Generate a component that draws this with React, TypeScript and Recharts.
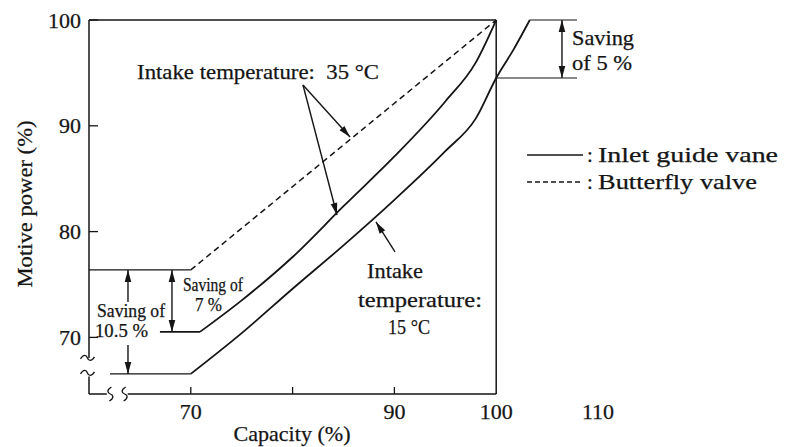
import React from 'react';
import { LineChart, Line, XAxis, YAxis, ReferenceLine, ReferenceDot } from 'recharts';

document.body.style.margin = '0';

const INK = '#151515';
const SERIF = '"Liberation Serif", "Times New Roman", serif';
const Y_MIN = 64.65;

// tick labels
const capacityTicks = [70, 80, 90, 100, 110];
const powerTicks = [70, 80, 90, 100];

// curves (capacity %, motive power %)
const butterflyFlat = [
    { capacity: 60, power: 76.38 },
    { capacity: 70, power: 76.38 },
];
const butterflyValve = [
    { capacity: 70, power: 76.38 },
    { capacity: 100, power: 100 },
];
const igv35Flat = [
    { capacity: 66.97, power: 70.52 },
    { capacity: 70.9, power: 70.52 },
];
const igv35 = [
    { capacity: 70.9, power: 70.52 },
    { capacity: 75, power: 73.5 },
    { capacity: 80, power: 77.6 },
    { capacity: 85, power: 82.4 },
    { capacity: 90, power: 87.1 },
    { capacity: 95, power: 92.3 },
    { capacity: 98, power: 96.0 },
    { capacity: 100, power: 100 },
];
const igv15Flat = [
    { capacity: 62.06, power: 66.55 },
    { capacity: 70, power: 66.55 },
];
const igv15 = [
    { capacity: 70, power: 66.55 },
    { capacity: 75, power: 70.4 },
    { capacity: 80, power: 74.6 },
    { capacity: 85, power: 78.7 },
    { capacity: 90, power: 83.0 },
    { capacity: 95, power: 87.6 },
    { capacity: 98, power: 90.7 },
    { capacity: 100, power: 94.52 },
    { capacity: 101.7, power: 97.2 },
    { capacity: 103.3, power: 100 },
];
const guide100 = [
    { capacity: 103.3, power: 100 },
    { capacity: 107.94, power: 100 },
];
const guide945 = [
    { capacity: 100, power: 94.52 },
    { capacity: 107.94, power: 94.52 },
];

const arrowShape = (heads: 'start' | 'end' | 'both') => (p: any) => {
    const { x1, y1, x2, y2 } = p;
    const head = (tx: number, ty: number, fx: number, fy: number) => {
        const a = Math.atan2(ty - fy, tx - fx);
        const L = 12, W = 3.3;
        const bx = tx - L * Math.cos(a), by = ty - L * Math.sin(a);
        const nx = -Math.sin(a) * W, ny = Math.cos(a) * W;
        return <polygon points={`${tx},${ty} ${bx + nx},${by + ny} ${bx - nx},${by - ny}`} fill={INK} />;
    };
    return (
        <g>
            <line x1={x1} y1={y1} x2={x2} y2={y2} stroke={INK} strokeWidth={1.4} />
            {heads !== 'start' && head(x2, y2, x1, y1)}
            {heads !== 'end' && head(x1, y1, x2, y2)}
        </g>
    );
};

const plainLine = (p: any) => <line x1={p.x1} y1={p.y1} x2={p.x2} y2={p.y2} stroke={INK} strokeWidth={1.5} />;

const T = ({ x, y, w, size = 21, anchor = 'start', children }: any) => (
    <text x={x} y={y} fontSize={size} fontFamily={SERIF} fill={INK} stroke={INK} strokeWidth={0.25}
        textAnchor={anchor} dominantBaseline="central" textLength={w} lengthAdjust="spacingAndGlyphs"
        style={{ whiteSpace: 'pre' }}>{children}</text>
);

const textAt = (content: string, w: number, size = 21) => (p: any) => <T x={p.cx} y={p.cy} w={w} size={size}>{content}</T>;

const tildeH = (p: any) => {
    const { cx, cy } = p;
    return <path d={`M ${cx - 7} ${cy + 1} C ${cx - 4} ${cy - 4} ${cx - 1} ${cy - 3} ${cx} ${cy} S ${cx + 4} ${cy + 4} ${cx + 7} ${cy - 1}`} fill="none" stroke={INK} strokeWidth={1.3} />;
};
const tildeV = (p: any) => {
    const { cx, cy } = p;
    return <path d={`M ${cx + 1} ${cy - 7} C ${cx - 4} ${cy - 4} ${cx - 3} ${cy - 1} ${cx} ${cy} S ${cx + 4} ${cy + 4} ${cx - 1} ${cy + 7}`} fill="none" stroke={INK} strokeWidth={1.3} />;
};

const legendEntry = (label: string, w: number, dashed: boolean) => (p: any) => (
    <g>
        <line x1={p.cx} y1={p.cy} x2={p.cx + 56} y2={p.cy} stroke={INK} strokeWidth={1.4} strokeDasharray={dashed ? '5 3' : undefined} />
        <T x={p.cx + 60} y={p.cy} size={21}>:</T>
        <T x={p.cx + 71} y={p.cy} w={w} size={21}>{label}</T>
    </g>
);

const YTick = ({ x, y, payload }: any) => (
    <g>
        <line x1={x} y1={y} x2={x + 9} y2={y} stroke={INK} strokeWidth={1.3} />
        <text x={x - 8} y={y} fontSize={22} fontFamily={SERIF} fill={INK} stroke={INK} strokeWidth={0.25}
            textAnchor="end" dominantBaseline="central">{payload.value}</text>
    </g>
);

const XTick = ({ x, y, payload }: any) => (
    <g>
        {payload.value <= 90 && <line x1={x} y1={y} x2={x} y2={y - 7} stroke={INK} strokeWidth={1.3} />}
        {payload.value !== 80 && (
            <text x={x} y={y + 17} fontSize={22} fontFamily={SERIF} fill={INK} stroke={INK} strokeWidth={0.25}
                textAnchor="middle" dominantBaseline="central">{payload.value}</text>
        )}
    </g>
);

const lineProps = { dataKey: 'power', dot: false, isAnimationActive: false, stroke: INK, legendType: 'none' as const };

export default function App() {
    return (
        <div style={{ width: 787, height: 447, background: '#fff' }}>
            <LineChart width={787} height={447} margin={{ top: 20, right: 189, bottom: 0, left: 0 }}>
                <XAxis
                    type="number"
                    dataKey="capacity"
                    domain={[60, 110]}
                    ticks={capacityTicks}
                    axisLine={false}
                    tickLine={false}
                    tickSize={0}
                    tickMargin={0}
                    height={53}
                    tick={<XTick />}
                    label={{
                        content: ({ viewBox }: any) => (
                            <T x={viewBox.x + 203} y={viewBox.y + 39} w={117} size={22} anchor="middle">Capacity (%)</T>
                        ),
                    }}
                />
                <YAxis
                    type="number"
                    domain={[Y_MIN, 100]}
                    ticks={powerTicks}
                    axisLine={false}
                    tickLine={false}
                    tickSize={0}
                    tickMargin={0}
                    width={89}
                    tick={<YTick />}
                    label={{
                        content: ({ viewBox }: any) => {
                            const cx = viewBox.x + 24;
                            const cy = viewBox.y + viewBox.height / 2 - 3;
                            return (
                                <text x={cx} y={cy} fontSize={22} fontFamily={SERIF} fill={INK} stroke={INK} strokeWidth={0.25}
                                    textAnchor="middle" dominantBaseline="central" transform={`rotate(-90 ${cx} ${cy})`}
                                    textLength={167} lengthAdjust="spacingAndGlyphs">Motive power (%)</text>
                            );
                        },
                    }}
                />

                {/* frame and broken axes */}
                <ReferenceLine segment={[{ x: 60, y: 100 }, { x: 100, y: 100 }]} shape={plainLine} ifOverflow="visible" />
                <ReferenceLine segment={[{ x: 100, y: 100 }, { x: 100, y: Y_MIN }]} shape={plainLine} ifOverflow="visible" />
                <ReferenceLine segment={[{ x: 60, y: 100 }, { x: 60, y: 68.06 }]} shape={plainLine} ifOverflow="visible" />
                <ReferenceLine segment={[{ x: 60, y: 66.3 }, { x: 60, y: Y_MIN }]} shape={plainLine} ifOverflow="visible" />
                <ReferenceLine segment={[{ x: 60, y: Y_MIN }, { x: 61.75, y: Y_MIN }]} shape={plainLine} ifOverflow="visible" />
                <ReferenceLine segment={[{ x: 63.8, y: Y_MIN }, { x: 100, y: Y_MIN }]} shape={plainLine} ifOverflow="visible" />
                <ReferenceDot x={59.85} y={68.06} shape={tildeH} ifOverflow="visible" />
                <ReferenceDot x={59.85} y={66.64} shape={tildeH} ifOverflow="visible" />
                <ReferenceDot x={62.1} y={Y_MIN} shape={tildeV} ifOverflow="visible" />
                <ReferenceDot x={63.5} y={Y_MIN} shape={tildeV} ifOverflow="visible" />

                {/* curves */}
                <Line {...lineProps} data={butterflyFlat} type="linear" strokeWidth={1.1} />
                <Line {...lineProps} data={butterflyValve} type="linear" strokeWidth={1.5} strokeDasharray="6 4" />
                <Line {...lineProps} data={igv35Flat} type="linear" strokeWidth={1.8} />
                <Line {...lineProps} data={igv35} type="monotone" strokeWidth={1.8} />
                <Line {...lineProps} data={igv15Flat} type="linear" strokeWidth={1.1} />
                <Line {...lineProps} data={igv15} type="monotone" strokeWidth={1.8} />
                <Line {...lineProps} data={guide100} type="linear" strokeWidth={1.1} />
                <Line {...lineProps} data={guide945} type="linear" strokeWidth={1.1} />

                {/* annotation arrows */}
                <ReferenceLine segment={[{ x: 81.02, y: 93.86 }, { x: 85.64, y: 88.94 }]} shape={arrowShape('end')} ifOverflow="visible" />
                <ReferenceLine segment={[{ x: 81.02, y: 93.86 }, { x: 84.36, y: 81.57 }]} shape={arrowShape('end')} ifOverflow="visible" />
                <ReferenceLine segment={[{ x: 90.06, y: 78.08 }, { x: 88.19, y: 80.91 }]} shape={arrowShape('end')} ifOverflow="visible" />
                <ReferenceLine segment={[{ x: 63.83, y: 73.35 }, { x: 63.83, y: 76.38 }]} shape={arrowShape('end')} ifOverflow="visible" />
                <ReferenceLine segment={[{ x: 63.83, y: 69.29 }, { x: 63.83, y: 66.55 }]} shape={arrowShape('end')} ifOverflow="visible" />
                <ReferenceLine segment={[{ x: 68.15, y: 76.38 }, { x: 68.15, y: 70.52 }]} shape={arrowShape('both')} ifOverflow="visible" />
                <ReferenceLine segment={[{ x: 106.46, y: 100 }, { x: 106.46, y: 94.52 }]} shape={arrowShape('both')} ifOverflow="visible" />

                {/* annotation texts */}
                <ReferenceDot x={64.72} y={95.09} shape={textAt('Intake temperature:\u00a0\u00a035 °C', 242, 21)} ifOverflow="visible" />
                <ReferenceDot x={87.31} y={76.28} shape={textAt('Intake', 56, 21)} ifOverflow="visible" />
                <ReferenceDot x={86.42} y={73.54} shape={textAt('temperature:', 124, 21)} ifOverflow="visible" />
                <ReferenceDot x={89.37} y={70.99} shape={textAt('15 °C', 42, 21)} ifOverflow="visible" />
                <ReferenceDot x={60.79} y={72.5} shape={textAt('Saving of', 68, 18)} ifOverflow="visible" />
                <ReferenceDot x={60.59} y={70.61} shape={textAt('10.5 %', 53, 18)} ifOverflow="visible" />
                <ReferenceDot x={69.23} y={74.96} shape={textAt('Saving of', 60, 18)} ifOverflow="visible" />
                <ReferenceDot x={70.41} y={73.07} shape={textAt('7 %', 27, 18)} ifOverflow="visible" />
                <ReferenceDot x={107.45} y={98.3} shape={textAt('Saving', 62, 21)} ifOverflow="visible" />
                <ReferenceDot x={107.45} y={95.94} shape={textAt('of 5 %', 60, 21)} ifOverflow="visible" />

                {/* legend */}
                <ReferenceDot x={103.03} y={87.24} shape={legendEntry('Inlet guide vane', 180, false)} ifOverflow="visible" />
                <ReferenceDot x={103.03} y={84.69} shape={legendEntry('Butterfly valve', 159, true)} ifOverflow="visible" />
            </LineChart>
        </div>
    );
}
